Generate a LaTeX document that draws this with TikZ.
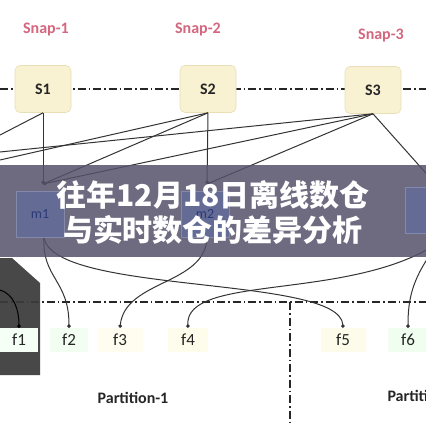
\documentclass[tikz,border=0pt]{standalone}
\usepackage{fontspec}
\setmainfont{Carlito}
\newfontfamily\cjk{Noto Sans CJK SC}
\usetikzlibrary{arrows.meta}
\definecolor{snapred}{HTML}{D4667E}
\definecolor{sfill}{HTML}{F8F1D2}
\definecolor{sedge}{HTML}{E9DFB6}
\definecolor{linec}{HTML}{333333}
\definecolor{bannerc}{HTML}{55506A}
\definecolor{mfill}{HTML}{646C96}
\definecolor{mtext}{HTML}{2B3A78}
\definecolor{darkc}{HTML}{3B3B3B}
\tikzset{
  sbox/.style={draw=sedge, fill=sfill, rounded corners=5pt, minimum width=56pt, minimum height=47pt, font=\fontsize{16}{18}\selectfont\bfseries, text=black!85, line width=0.6pt},
  mbox/.style={draw=mfill!80!white, fill=mfill, minimum width=48pt, minimum height=46pt, font=\fontsize{14}{16}\selectfont, text=mtext, line width=0.6pt},
  fbox/.style={fill=#1, minimum height=24pt, font=\fontsize{17}{19}\selectfont, text=black!85, inner sep=0pt},
  snap/.style={text=snapred, font=\fontsize{16}{18}\selectfont\bfseries},
  conn/.style={draw=linec, line width=1pt, -{Circle[length=3.5pt]}},
  plainconn/.style={draw=linec, line width=1pt},
  dashdot/.style={draw=black!85, line width=1.2pt, dash pattern=on 8pt off 3pt on 1.5pt off 3pt},
  part/.style={font=\fontsize{16}{18}\selectfont\bfseries, text=black!85},
}
\begin{document}
\begin{tikzpicture}[x=1pt,y=-1pt]
\useasboundingbox (0,0) rectangle (426,426);
\clip (0,0) rectangle (426,426);
\fill[white] (0,0) rectangle (426,426);
% snapshot row
\draw[dashdot] (0,89) -- (426,89);
\node[snap] (n1) at (46,30) {Snap-1};
\node[snap] (n2) at (198,30) {Snap-2};
\node[snap] (n3) at (381,36) {Snap-3};
\node[sbox] (s1) at (43,89) {S1};
\node[sbox] (s2) at (208,89) {S2};
\node[sbox] (s3) at (373,90) {S3};
% m nodes (positions)
\coordinate (m1n) at (43,184);
\coordinate (m2n) at (207,184);
\coordinate (l1) at (0,135);
\coordinate (l2) at (0,160);
\coordinate (l3) at (0,152);
\coordinate (r3) at (441,190);
\draw[conn] (s1.south) -- (m1n);
\draw[plainconn] (s1.south) -- (l1);
\draw[conn] (s2.south) -- (m2n);
\draw[conn] (s2.south) -- (m1n);
\draw[plainconn] (s2.south) -- (l2);
\draw[conn] (s3.south) -- (m1n);
\draw[conn] (s3.south) -- (m2n);
\draw[plainconn] (s3.south) -- (l3);
\draw[plainconn] (s3.south) -- (r3);
% f nodes
\draw[dashdot] (0,302) -- (426,302);
\draw[dashdot] (290,302) -- (290,426);
\node[part] (p1) at (133,398) {Partition-1};
\node[part, anchor=west] (p2) at (384,396) {Partition-2};
\node[fbox=black!7!green!5!white, minimum width=38pt] (f2) at (69,340) {f2};
\node[fbox=black!9!yellow!6!white, minimum width=45pt] (f3) at (120,340) {f3};
\node[fbox=black!8!yellow!8!white, minimum width=40pt] (f4) at (188,340) {f4};
\node[fbox=black!10!yellow!8!white, minimum width=45pt] (f5) at (343,340) {f5};
\node[fbox=black!8!green!6!white, minimum width=40pt] (f6) at (408,340) {f6};
% curves
\coordinate (m1s) at (44,238);
\coordinate (m2s) at (207,238);
\coordinate (r4) at (430,248);
\coordinate (r5) at (432,252);
\draw[conn] (m1s) .. controls (42,278) and (69,280) .. (f2.north);
\draw[conn] (m1s) .. controls (55,295) and (340,275) .. (f5.north);
\draw[conn] (m2s) .. controls (205,285) and (125,280) .. (f3.north);
\draw[conn] (r4) .. controls (340,300) and (185,275) .. (f4.north);
\draw[conn] (r5) .. controls (412,280) and (408,300) .. (f6.north);
% dark shape
\fill[darkc, opacity=0.93] (0,258) -- (12,258) -- (40,283) -- (40,375) -- (0,375) -- cycle;
\node[fbox=green!4!white, minimum width=38pt] (f1) at (19,340) {f1};
\coordinate (d1) at (0,290);
\draw[draw=black, line width=1pt, -{Circle[length=3.5pt]}] (d1) .. controls (14,294) and (19,310) .. (f1.north);
% banner
\fill[bannerc, opacity=0.85] (0,165) rectangle (426,257);
\node[mbox] (m1) at (40,214) {m1};
\node[mbox] (m2) at (205,214) {m2};
\node[mbox] (m3) at (429,210) {};
\node[text=white, font=\cjk\fontsize{30}{32}\selectfont\bfseries] (t1) at (213,195) {往年12月18日离线数仓};
\node[text=white, font=\cjk\fontsize{30}{32}\selectfont\bfseries] (t2) at (213,230) {与实时数仓的差异分析};
\end{tikzpicture}
\end{document}
